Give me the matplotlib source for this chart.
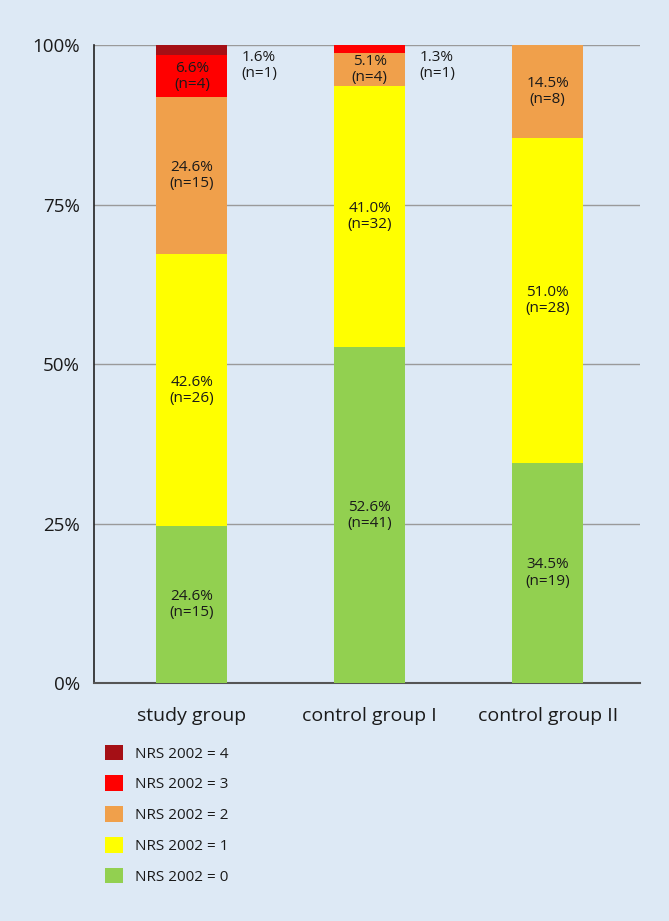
import matplotlib
matplotlib.use("Agg")
import matplotlib.pyplot as plt
from matplotlib.patches import Patch
import numpy as np

plt.rcParams['font.family'] = ['Open Sans', 'DejaVu Sans']

groups = ["study group", "control group I", "control group II"]
levels = ["NRS 2002 = 0", "NRS 2002 = 1", "NRS 2002 = 2", "NRS 2002 = 3", "NRS 2002 = 4"]
colors = ["#92d050", "#ffff00", "#f0a04b", "#ff0000", "#a50f15"]
# percentages per level (rows) for each group (cols)
pct = {
    0: [24.6, 52.6, 34.5],
    1: [42.6, 41.0, 51.0],
    2: [24.6, 5.1, 14.5],
    3: [6.6, 1.3, 0.0],
    4: [1.6, 0.0, 0.0],
}
counts = {
    0: [15, 41, 19],
    1: [26, 32, 28],
    2: [15, 4, 8],
    3: [4, 1, 0],
    4: [1, 0, 0],
}
yticks = [0, 25, 50, 75, 100]
ytick_labels = ["0%", "25%", "50%", "75%", "100%"]

bg = "#dde9f5"
fig = plt.figure(figsize=(6.69, 9.21), dpi=100, facecolor=bg)
ax = fig.add_axes([0.1405, 0.2584, 0.8165, 0.6927], facecolor=bg)

x = np.arange(len(groups))
width = 0.4
bottom = np.zeros(len(groups))
for lvl in range(5):
    vals = np.array(pct[lvl])
    ax.bar(x, vals, width, bottom=bottom, color=colors[lvl], edgecolor='none', zorder=3)
    for i, v in enumerate(vals):
        if v <= 0:
            continue
        label = f"{v:.1f}%\n(n={counts[lvl][i]})"
        if v >= 4:
            ax.text(x[i], bottom[i] + v / 2, label, ha='center', va='center',
                    fontsize=11, color='#1a1a1a', linespacing=1.1, zorder=4)
        else:
            ax.text(x[i] + width / 2 + 0.08, 99.2, label, ha='left', va='top',
                    fontsize=11, color='#1a1a1a', linespacing=1.1, zorder=4)
    bottom += vals

ax.set_xlim(-0.55, 2.52)
ax.set_ylim(0, 100)
ax.set_yticks(yticks)
ax.set_yticklabels(ytick_labels, fontsize=13.5, color='#1a1a1a')
ax.set_xticks(x)
ax.set_xticklabels(groups, fontsize=14, color='#1a1a1a')
ax.tick_params(axis='both', length=0)
ax.tick_params(axis='x', pad=17)
ax.tick_params(axis='y', pad=10)
ax.yaxis.grid(True, color='#9a9a9a', linewidth=1.0, zorder=1)
ax.set_axisbelow(True)
for s in ['top', 'right']:
    ax.spines[s].set_visible(False)
ax.spines['left'].set_color('#222222')
ax.spines['left'].set_linewidth(1.2)
ax.spines['bottom'].set_color('#555555')
ax.spines['bottom'].set_linewidth(1.5)

handles = [Patch(facecolor=colors[l], edgecolor='none', label=levels[l]) for l in range(4, -1, -1)]
leg = fig.legend(handles=handles, loc='upper left', bbox_to_anchor=(0.148, 0.198),
                 frameon=False, fontsize=11, handlelength=1.2, handleheight=1.2,
                 labelspacing=0.9, handletextpad=0.75, borderaxespad=0)
for t in leg.get_texts():
    t.set_color('#1a1a1a')

fig.savefig("out.png", dpi=100, facecolor=bg)
